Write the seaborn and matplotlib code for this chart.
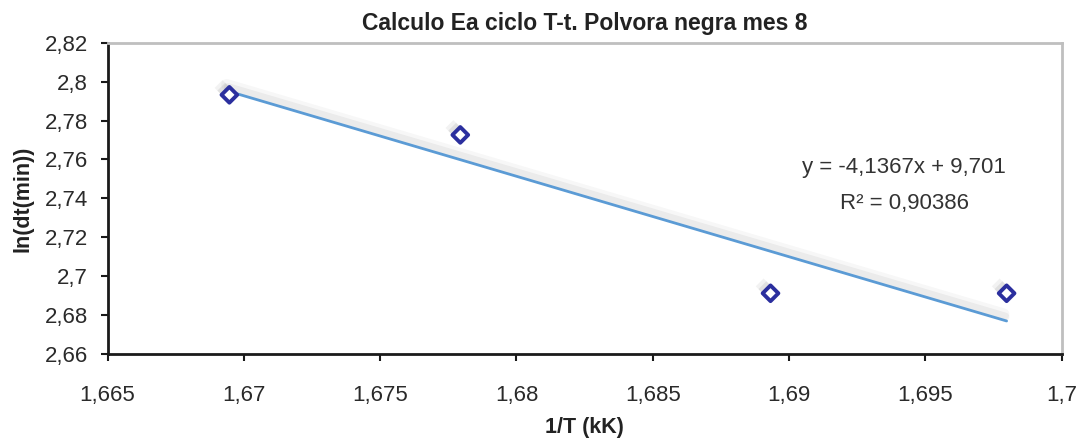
import numpy as np
import pandas as pd
import matplotlib
matplotlib.use("Agg")
import matplotlib.pyplot as plt
import matplotlib.patheffects as pe
from matplotlib.ticker import FuncFormatter, MultipleLocator
import seaborn as sns

# Measured points: inverse temperature (1/T, kK) vs ln of cycle time
inv_T = [1.66947, 1.67794, 1.68932, 1.69798]
ln_dt = [2.7932, 2.7726, 2.6912, 2.6912]

# Linear trend reported on the chart
slope = -4.1367
intercept = 9.701
r2 = 0.90386

title = "Calculo Ea ciclo T-t. Polvora negra mes 8"
xlabel = "1/T (kK)"
ylabel = "ln(dt(min))"

sns.set_style("white")
plt.rcParams["font.family"] = ["Liberation Sans", "DejaVu Sans"]

fig = plt.figure(figsize=(10.84, 4.41), dpi=100)
ax = fig.add_axes([0.0992, 0.1973, 0.8802, 0.7059])

df = pd.DataFrame({"x": inv_T, "y": ln_dt})
trend = pd.DataFrame({"x": [min(inv_T), max(inv_T)]})
trend["y"] = slope * trend["x"] + intercept

# soft drop shadow: a few faint offset copies
line_shadow = [pe.SimpleLineShadow(offset=(-1, 3), shadow_color="0.6", alpha=0.12, linewidth=6),
               pe.SimpleLineShadow(offset=(-2, 5), shadow_color="0.6", alpha=0.08, linewidth=8),
               pe.Normal()]
sns.lineplot(data=trend, x="x", y="y", ax=ax, color="#5B9BD5", linewidth=2.0,
             path_effects=line_shadow, zorder=3)

mark_shadow = [pe.SimplePatchShadow(offset=(-3, 3), shadow_rgbFace="0.55", alpha=0.18),
               pe.SimplePatchShadow(offset=(-5, 5), shadow_rgbFace="0.6", alpha=0.12),
               pe.Normal()]
sns.scatterplot(data=df, x="x", y="y", ax=ax, marker="D", s=64,
                facecolor="white", edgecolor="#2B2F9E", linewidth=2.8, zorder=4)
for coll in ax.collections:
    coll.set_path_effects(mark_shadow)

ax.set_xlim(1.665, 1.7)
ax.set_ylim(2.66, 2.82)
ax.xaxis.set_major_locator(MultipleLocator(0.005))
ax.yaxis.set_major_locator(MultipleLocator(0.02))

def comma_fmt(v, pos):
    return f"{v:.4f}".rstrip("0").rstrip(".").replace(".", ",")

ax.xaxis.set_major_formatter(FuncFormatter(comma_fmt))
ax.yaxis.set_major_formatter(FuncFormatter(comma_fmt))

for side in ["left", "bottom"]:
    ax.spines[side].set_color("#1a1a1a")
    ax.spines[side].set_linewidth(2.0)
for side in ["top", "right"]:
    ax.spines[side].set_color("#BFBFBF")
    ax.spines[side].set_linewidth(2.0)

ax.tick_params(axis="both", which="major", direction="out", length=5, width=1.5,
               color="#1a1a1a", labelsize=16, labelcolor="#2a2a2a")
ax.tick_params(axis="x", bottom=True, pad=17)
ax.tick_params(axis="y", left=True, pad=9)

ax.set_xlabel(xlabel, fontsize=15.5, fontweight="bold", color="#222222", labelpad=8)
ax.set_ylabel(ylabel, fontsize=15.5, fontweight="bold", color="#222222", labelpad=8)
ax.set_title(title, fontsize=16.5, fontweight="bold", color="#222222", pad=9)

eq = f"y = {slope:.4f}x + {intercept:.3f}".replace(".", ",")
r2_txt = f"R² = {r2:.5f}".replace(".", ",")
ax.text(1.69422, 2.7556, eq, fontsize=16, color="#333333", ha="center", va="center")
ax.text(1.69422, 2.7376, r2_txt, fontsize=16, color="#333333", ha="center", va="center")

fig.savefig("out.png", dpi=100)
